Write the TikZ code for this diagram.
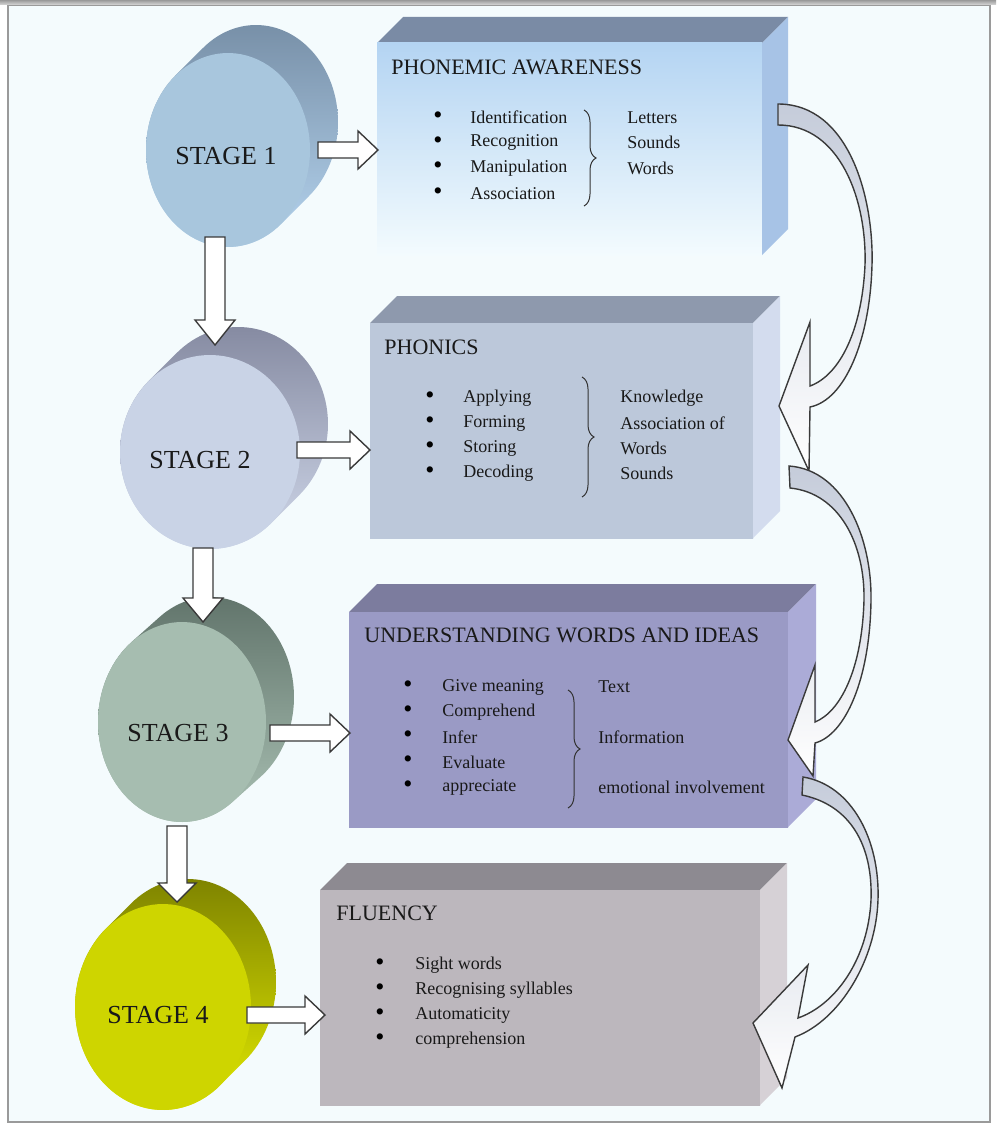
\documentclass[tikz,border=0pt]{standalone}
\usepackage{fontspec}
\setmainfont{Liberation Serif}
\usetikzlibrary{decorations.pathreplacing}

\definecolor{bgpanel}{HTML}{F4FBFD}
\definecolor{framegray}{HTML}{9A9A9A}
\definecolor{bandgray}{HTML}{C5CCDA}
\definecolor{inkgray}{HTML}{3A3A3A}
% stage discs
\definecolor{s1front}{HTML}{A8C6DD}\definecolor{s1dark}{HTML}{7890A8}\definecolor{s1light}{HTML}{B5D4EF}
\definecolor{s2front}{HTML}{C9D3E6}\definecolor{s2dark}{HTML}{868BA2}\definecolor{s2light}{HTML}{D0D8EA}
\definecolor{s3front}{HTML}{A6BDB0}\definecolor{s3dark}{HTML}{62756C}\definecolor{s3light}{HTML}{A9C0B3}
\definecolor{s4front}{HTML}{CED500}\definecolor{s4dark}{HTML}{7F8400}\definecolor{s4light}{HTML}{E2EA00}
% boxes
\definecolor{b1top}{HTML}{7A8BA5}\definecolor{b1front}{HTML}{B4D4F2}\definecolor{b1fade}{HTML}{F3FBFE}\definecolor{b1side}{HTML}{A7C3E6}
\definecolor{b2top}{HTML}{8E99AD}\definecolor{b2front}{HTML}{BCC8DA}\definecolor{b2side}{HTML}{D3DCEE}
\definecolor{b3top}{HTML}{7C7C9E}\definecolor{b3front}{HTML}{9A9AC5}\definecolor{b3side}{HTML}{ABABD7}
\definecolor{b4top}{HTML}{8D8A91}\definecolor{b4front}{HTML}{BCB7BD}\definecolor{b4side}{HTML}{D6D1D6}

\tikzset{
  stagelabel/.style={font=\fontsize{13}{15}\selectfont, text=black!90},
  boxtitle/.style={anchor=west, inner sep=0pt, font=\fontsize{11}{13}\selectfont, text=black!90},
  itemtext/.style={anchor=west, inner sep=0pt, font=\fontsize{9}{11}\selectfont, text=black!90},
  itemdot/.style={inner sep=0pt, font=\fontsize{13}{13}\selectfont},
  blockarrow/.style={draw=inkgray, fill=white, line width=0.7pt},
  bendarrow/.style={draw=inkgray, line width=0.7pt, top color=bandgray, bottom color=white},
  itembrace/.style={decorate, decoration={brace, amplitude=6pt}, draw=black!80, line width=0.5pt}
}

\begin{document}
\begin{tikzpicture}[x=0.5pt,y=-0.5pt]
	\useasboundingbox (0,0) rectangle (996,1129);
	\fill[white] (0,0) rectangle (996,1129);
	\fill[bgpanel] (8,5) rectangle (990,1122);
	\draw[framegray, line width=1pt] (8,5) rectangle (990,1122);
	\shade[top color=gray!80, bottom color=gray!30] (0,0) rectangle (996,5);

	% 3d boxes: top face, front face, right face
	\foreach \xa/\ya/\xb/\yb/\dp/\ctop/\cfa/\cfb/\cside in {
		377/43/762/255/26/b1top/b1front/b1fade/b1side,
		370/323/753/538/27/b2top/b2front/b2front/b2side,
		349/612/788/827/28/b3top/b3front/b3front/b3side,
		320/890/760/1105/27/b4top/b4front/b4front/b4side}
	{
		\fill[\ctop] (\xa,\ya) -- (\xa+\dp,\ya-\dp) -- (\xb+\dp,\ya-\dp) -- (\xb,\ya) -- cycle;
		\shade[top color=\cfa, bottom color=\cfb] (\xa,\ya) rectangle (\xb,\yb);
		\fill[\cside] (\xb,\ya) -- (\xb+\dp,\ya-\dp) -- (\xb+\dp,\yb-\dp) -- (\xb,\yb) -- cycle;
	}

	% stage discs: side hull, then front face
	\foreach \cx/\cy/\rx/\ry/\dx/\dy/\cfront/\ctop/\cbot in {
		228/150/82/97/28/-28/s1front/s1dark/s1light,
		210/452/90/97/28/-28/s2front/s2dark/s2light,
		182/722/84/100/28/-25/s3front/s3dark/s3light,
		163/1007/88/103/25/-25/s4front/s4dark/s4light}
	{
		\pgfmathsetmacro\ta{atan2(-\ry*\dx,\rx*\dy)}
		\pgfmathsetmacro\tb{\ta+180}
		\pgfmathsetmacro\tc{\ta+360}
		\shade[top color=\ctop, bottom color=\cbot]
			plot[domain=\ta:\tb, samples=60] ({\cx+\dx+\rx*cos(\x)},{\cy+\dy+\ry*sin(\x)})
			-- plot[domain=\tb:\tc, samples=60] ({\cx+\rx*cos(\x)},{\cy+\ry*sin(\x)}) -- cycle;
		\fill[\cfront] plot[domain=0:360, samples=90] ({\cx+\rx*cos(\x)},{\cy+\ry*sin(\x)}) -- cycle;
	}

	\node[stagelabel] (s1) at (226,156) {STAGE 1};
	\node[stagelabel] (s2) at (200,460) {STAGE 2};
	\node[stagelabel] (s3) at (178,733) {STAGE 3};
	\node[stagelabel] (s4) at (158,1015) {STAGE 4};

	% stage -> box arrows
	\draw[blockarrow] (318,142) -- (358,142) -- (358,131) -- (378,150) -- (358,169) -- (358,158) -- (318,158) -- cycle;
	\draw[blockarrow] (297,442) -- (350,442) -- (350,431) -- (370,450) -- (350,469) -- (350,458) -- (297,458) -- cycle;
	\draw[blockarrow] (270,725) -- (330,725) -- (330,714) -- (350,733) -- (330,752) -- (330,741) -- (270,741) -- cycle;
	\draw[blockarrow] (247,1007) -- (305,1007) -- (305,996) -- (325,1015) -- (305,1034) -- (305,1023) -- (247,1023) -- cycle;
	% stage -> stage arrows
	\draw[blockarrow] (205,237) -- (225,237) -- (225,320) -- (235,320) -- (215,345) -- (195,320) -- (205,320) -- cycle;
	\draw[blockarrow] (193,548) -- (213,548) -- (213,598) -- (223,598) -- (203,622) -- (183,598) -- (193,598) -- cycle;
	\draw[blockarrow] (167,826) -- (187,826) -- (187,883) -- (196,883) -- (177,902) -- (158,883) -- (167,883) -- cycle;

	% curved arrows box -> box
	\draw[bendarrow] (778,104) .. controls (850,104) and (874,200) .. (872,265) .. controls (870,340) and (845,400) .. (810,407)
		-- (809,471) -- (779,406) -- (810,322) -- (810,386)
		.. controls (840,375) and (862,330) .. (865,265) .. controls (867,200) and (840,125) .. (778,125) -- cycle;
	\draw[bendarrow] (789,466) .. controls (845,470) and (872,540) .. (871,600) .. controls (870,680) and (845,735) .. (815,743)
		-- (813,776) -- (788,740) -- (815,665) -- (815,722)
		.. controls (840,712) and (862,670) .. (864,600) .. controls (865,545) and (840,493) .. (790,488) -- cycle;
	\draw[bendarrow] (803,777) .. controls (852,785) and (880,840) .. (878,900) .. controls (876,960) and (840,1020) .. (795,1037)
		-- (782,1088) -- (753,1023) -- (808,965) -- (798,1018)
		.. controls (835,1005) and (868,960) .. (871,900) .. controls (873,845) and (850,805) .. (802,795) -- cycle;

	% box 1
	\node[boxtitle] (b1) at (391,67) {PHONEMIC AWARENESS};
	\foreach \w [count=\i] in {Identification,Recognition,Manipulation,Association}
	{
		\node[itemdot] (b1d\i) at (438,{92+25.3*\i}) {\textbullet};
		\node[itemtext] (b1i\i) at (470,{92+25.3*\i}) {\w};
	}
	\draw[itembrace] (584,110) -- (584,206);
	\foreach \w [count=\i] in {Letters,Sounds,Words}
		\node[itemtext] (b1r\i) at (627,{92+25.3*\i}) {\w};

	% box 2
	\node[boxtitle] (b2) at (384,347) {PHONICS};
	\foreach \w [count=\i] in {Applying,Forming,Storing,Decoding}
	{
		\node[itemdot] (b2d\i) at (430,{373+25*\i}) {\textbullet};
		\node[itemtext] (b2i\i) at (463,{373+25*\i}) {\w};
	}
	\draw[itembrace] (582,377) -- (582,497);
	\foreach \w [count=\i] in {Knowledge,Association of,Words,Sounds}
		\node[itemtext] (b2r\i) at (620,{373+25*\i}) {\w};

	% box 3
	\node[boxtitle] (b3) at (364,635) {UNDERSTANDING WORDS AND IDEAS};
	\foreach \w [count=\i] in {Give meaning,Comprehend,Infer,Evaluate,appreciate}
	{
		\node[itemdot] (b3d\i) at (408,{662+25*\i}) {\textbullet};
		\node[itemtext] (b3i\i) at (442,{662+25*\i}) {\w};
	}
	\draw[itembrace] (568,690) -- (568,808);
	\node[itemtext] (b3r1) at (598,687) {Text};
	\node[itemtext] (b3r2) at (598,737) {Information};
	\node[itemtext] (b3r3) at (598,787) {emotional involvement};

	% box 4
	\node[boxtitle] (b4) at (336,913) {FLUENCY};
	\foreach \w [count=\i] in {Sight words,Recognising syllables,Automaticity,comprehension}
	{
		\node[itemdot] (b4d\i) at (380,{940+25*\i}) {\textbullet};
		\node[itemtext] (b4i\i) at (415,{940+25*\i}) {\w};
	}
\end{tikzpicture}
\end{document}
